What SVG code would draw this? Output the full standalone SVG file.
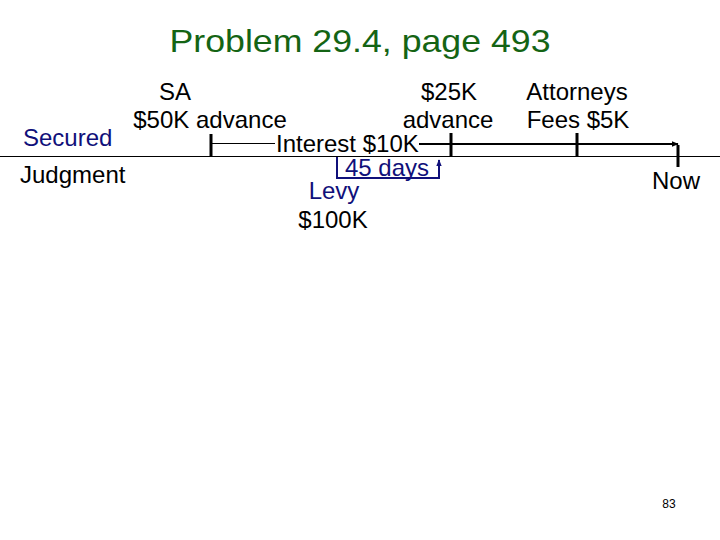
<svg xmlns="http://www.w3.org/2000/svg" width="720" height="540" viewBox="0 0 720 540">
<defs>
<style>
text{font-family:"Liberation Sans",Arial,sans-serif;font-size:24px;fill:#000}
.title{font-size:32px;fill:#146414}
.blue{fill:#10107a}
.num{font-size:12px}
.ln{stroke:#000;fill:none}
.bl{stroke:#10107a;fill:none;stroke-width:2}
</style>
<marker id="ah" viewBox="0 0 10 10" refX="9" refY="5" markerWidth="7" markerHeight="7" orient="auto" markerUnits="userSpaceOnUse"><path d="M0,1 L10,5 L0,9 Z" fill="#000"/></marker>
<marker id="ahb" viewBox="0 0 10 10" refX="9" refY="5" markerWidth="7" markerHeight="7" orient="auto" markerUnits="userSpaceOnUse"><path d="M0,1 L10,5 L0,9 Z" fill="#10107a"/></marker>
</defs>
<rect width="720" height="540" fill="#fff"/>
<text class="title" x="360" y="52" text-anchor="middle" textLength="381" lengthAdjust="spacingAndGlyphs">Problem 29.4, page 493</text>
<g id="connectors">
<line class="ln" x1="0" y1="156.5" x2="720" y2="156.5" stroke-width="1.2"/>
<line class="ln" x1="211" y1="143.5" x2="275" y2="143.5" stroke-width="1.2"/>
<line class="ln" x1="419" y1="144" x2="678" y2="144" stroke-width="2" marker-end="url(#ah)"/>
<polyline class="bl" points="337,157 337,178 439,178 439,160" marker-end="url(#ahb)"/>
</g>
<g id="ticks">
<line class="ln" x1="211" y1="134" x2="211" y2="156" stroke-width="3"/>
<line class="ln" x1="451" y1="133" x2="451" y2="156" stroke-width="3"/>
<line class="ln" x1="577" y1="133" x2="577" y2="156" stroke-width="3"/>
<line class="ln" x1="678" y1="145" x2="678" y2="167" stroke-width="3"/>
</g>
<g id="secured"><text class="blue" x="23" y="146">Secured</text></g>
<g id="judgment"><text x="20" y="183">Judgment</text></g>
<g id="sa"><text x="175" y="100" text-anchor="middle">SA</text><text x="210" y="128" text-anchor="middle">$50K advance</text></g>
<g id="interest"><text x="276" y="152">Interest $10K</text></g>
<g id="days"><text class="blue" x="387" y="176" text-anchor="middle">45 days</text></g>
<g id="levy"><text class="blue" x="334" y="199" text-anchor="middle">Levy</text><text x="333" y="228" text-anchor="middle">$100K</text></g>
<g id="adv25"><text x="449" y="100" text-anchor="middle">$25K</text><text x="448" y="128" text-anchor="middle">advance</text></g>
<g id="fees"><text x="577" y="100" text-anchor="middle">Attorneys</text><text x="578" y="128" text-anchor="middle">Fees $5K</text></g>
<g id="now"><text x="676" y="189" text-anchor="middle">Now</text></g>
<text class="num" x="669" y="508" text-anchor="middle">83</text>
</svg>
